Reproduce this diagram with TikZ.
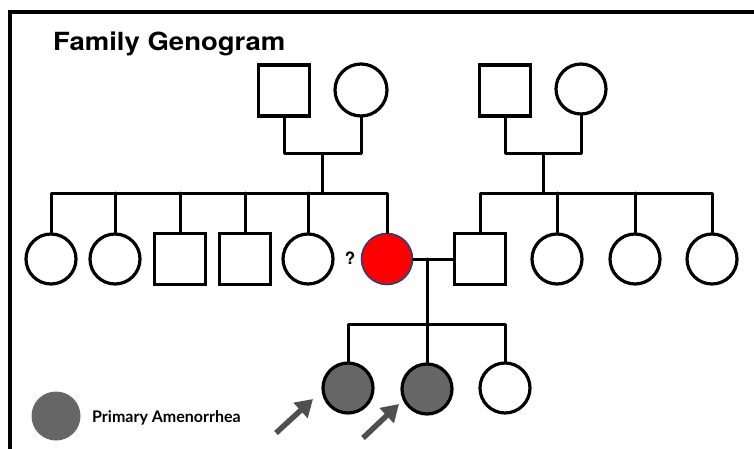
\documentclass[tikz,border=0pt]{standalone}
\usepackage{fontspec}
\setmainfont{TeX Gyre Heros}
\newfontfamily\legfont{Lato}
\usetikzlibrary{arrows.meta}
\definecolor{dgray}{HTML}{666666}
\definecolor{agray}{HTML}{4F4F4F}
\definecolor{navyb}{HTML}{2B3F7A}
\begin{document}
\begin{tikzpicture}[x=1pt,y=-1pt,
  male/.style={draw=black,line width=3.2pt,rectangle,minimum size=51pt,inner sep=0pt},
  female/.style={draw=black,line width=3.2pt,circle,minimum size=50pt,inner sep=0pt},
  aff/.style={female,fill=dgray},
  conn/.style={line width=3pt,line cap=round,line join=round},
  pointer/.style={draw=agray,line width=5.5pt,-{Triangle[length=17pt,width=20pt]}}]
\useasboundingbox (0,0) rectangle (754,449);
\clip (0,0) rectangle (754,449);
% frame
\coordinate (fbl) at (10,460);
\coordinate (ftl) at (10,12);
\coordinate (ftr) at (770,12);
\draw[line width=4.4pt] (fbl) -- (ftl) -- (ftr);
% title
\node[anchor=base west,inner sep=0pt,font=\bfseries\fontsize{25}{30}\selectfont,xscale=1.1,transform shape] (title) at (53,51) {Family Genogram};
% grandparents
\node[male] (gf1) at (284,90.5) {};
\node[female,minimum size=52pt] (gm1) at (361,90) {};
\node[male] (gf2) at (505,90.5) {};
\node[female] (gm2) at (581,89) {};
\coordinate (m1) at (322,154);
\coordinate (m2) at (543,154);
\draw[conn] (gf1.south) |- (m1) -| (gm1.south);
\draw[conn] (gf2.south) |- (m2) -| (gm2.south);
\coordinate (s1) at (322,193);
\coordinate (s2) at (543,193);
\draw[conn] (m1) -- (s1);
\draw[conn] (m2) -- (s2);
% second generation
\node[female] (a1) at (51,259) {};
\node[female] (a2) at (115,259) {};
\node[male] (a3) at (180,259) {};
\node[male] (a4) at (245,259) {};
\node[female] (a5) at (308,259) {};
\node[circle,minimum size=51pt,inner sep=0pt,fill=red,draw=navyb,line width=1.6pt] (p) at (387,259) {};
\node[font=\bfseries\fontsize{17}{20}\selectfont,inner sep=0pt] (q) at (350,258) {?};
\node[male] (h) at (480,259) {};
\node[female] (b1) at (557,259) {};
\node[female] (b2) at (635,259) {};
\node[female] (b3) at (712,259) {};
% sibling lines
\draw[conn] (a1.north) |- (s1) -| (p.north);
\foreach \n in {a2,a3,a4,a5} \draw[conn] (\n.north) -- (\n.north |- s1);
\draw[conn] (h.north) |- (s2) -| (b3.north);
\foreach \n in {b1,b2} \draw[conn] (\n.north) -- (\n.north |- s2);
% marriage
\coordinate (mm) at (427,259);
\coordinate (cl) at (427,324);
\draw[conn] (p.east) -- (h.west);
\draw[conn] (mm) -- (cl);
% children
\node[aff] (c1) at (348,388) {};
\node[aff] (c2) at (427,389) {};
\node[female] (c3) at (505,388) {};
\draw[conn] (c1.north) |- (cl) -| (c3.north);
\draw[conn] (cl) -- (c2.north);
% pointers
\coordinate (t1) at (276,433);
\coordinate (h1) at (313,399);
\coordinate (t2) at (363,438);
\coordinate (h2) at (399,404);
\draw[pointer] (t1) -- (h1);
\draw[pointer] (t2) -- (h2);
% legend
\node[circle,fill=dgray,minimum size=49pt,inner sep=0pt] (lg) at (56,416) {};
\node[anchor=base west,inner sep=0pt,font=\legfont\bfseries\fontsize{16}{19}\selectfont] (lt) at (92,422) {Primary Amenorrhea};
\end{tikzpicture}
\end{document}
